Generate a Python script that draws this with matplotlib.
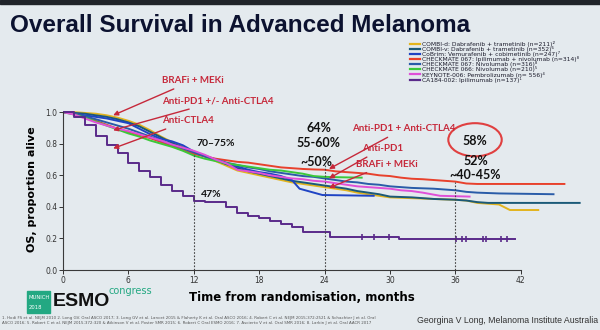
import matplotlib
matplotlib.use("Agg")
import matplotlib.pyplot as plt
from matplotlib.patches import Ellipse, Rectangle

# ---- data (months, OS proportion) ----
combid_t = [0, 1, 2, 3, 4, 5, 6, 7, 8, 9, 10, 11, 12, 13, 14, 15, 16, 17, 18, 19, 20, 21, 22, 23, 24, 25, 26, 27, 28, 29, 30, 32, 34, 36, 37, 38, 39, 40, 41, 43.6]
combid_s = [1.0, 1.0, 0.995, 0.99, 0.98, 0.965, 0.945, 0.92, 0.885, 0.845, 0.81, 0.78, 0.75, 0.72, 0.69, 0.66, 0.63, 0.615, 0.60, 0.585, 0.57, 0.555, 0.545, 0.535, 0.525, 0.515, 0.505, 0.49, 0.48, 0.47, 0.46, 0.455, 0.45, 0.445, 0.44, 0.425, 0.42, 0.415, 0.38, 0.38]

combiv_t = [0, 1, 2, 3, 4, 5, 6, 7, 8, 9, 10, 11, 12, 13, 14, 15, 16, 17, 18, 19, 20, 21, 22, 23, 24, 25, 26, 27, 28, 29, 30, 32, 34, 36, 37, 38, 39, 47.4]
combiv_s = [1.0, 0.995, 0.99, 0.98, 0.97, 0.955, 0.935, 0.91, 0.875, 0.84, 0.805, 0.775, 0.745, 0.72, 0.695, 0.67, 0.645, 0.625, 0.61, 0.595, 0.58, 0.565, 0.555, 0.545, 0.535, 0.525, 0.515, 0.50, 0.49, 0.48, 0.465, 0.46, 0.45, 0.445, 0.44, 0.43, 0.425, 0.425]

cobrim_t = [0, 1, 2, 3, 4, 5, 6, 7, 8, 9, 10, 11, 12, 13, 14, 15, 16, 17, 18, 19, 20, 21, 21.7, 23.8, 28.5]
cobrim_s = [1.0, 0.99, 0.98, 0.97, 0.96, 0.945, 0.93, 0.895, 0.86, 0.83, 0.815, 0.79, 0.75, 0.725, 0.70, 0.675, 0.655, 0.635, 0.62, 0.61, 0.595, 0.57, 0.515, 0.475, 0.47]

cm067_combo_t = [0, 1, 2, 3, 4, 5, 6, 7, 8, 9, 10, 11, 12, 13, 14, 15, 16, 17, 18, 19, 20, 21, 22, 23, 24, 25, 26, 27, 28, 29, 30, 31, 32, 33, 34, 35, 36, 37, 38, 46]
cm067_combo_s = [1.0, 0.99, 0.97, 0.945, 0.92, 0.895, 0.875, 0.855, 0.835, 0.81, 0.785, 0.76, 0.735, 0.72, 0.705, 0.695, 0.685, 0.68, 0.67, 0.66, 0.65, 0.645, 0.64, 0.637, 0.635, 0.625, 0.62, 0.615, 0.61, 0.60, 0.595, 0.585, 0.578, 0.575, 0.57, 0.565, 0.56, 0.548, 0.545, 0.545]

cm067_nivo_t = [0, 1, 2, 3, 4, 5, 6, 7, 8, 9, 10, 11, 12, 13, 14, 15, 16, 17, 18, 19, 20, 21, 22, 23, 24, 25, 26, 27, 28, 29, 30, 31, 32, 34, 36, 37, 38, 40, 45]
cm067_nivo_s = [1.0, 0.99, 0.975, 0.955, 0.935, 0.915, 0.895, 0.87, 0.845, 0.82, 0.795, 0.77, 0.745, 0.72, 0.70, 0.68, 0.665, 0.65, 0.64, 0.625, 0.615, 0.605, 0.595, 0.59, 0.58, 0.57, 0.56, 0.555, 0.545, 0.54, 0.53, 0.525, 0.52, 0.515, 0.505, 0.495, 0.49, 0.485, 0.48]

cm066_t = [0, 1, 2, 3, 4, 5, 6, 7, 8, 9, 10, 11, 12, 13, 14, 15, 16, 17, 18, 19, 20, 21, 22, 23, 24, 25, 27.4]
cm066_s = [1.0, 0.985, 0.965, 0.94, 0.915, 0.89, 0.865, 0.845, 0.82, 0.80, 0.78, 0.755, 0.725, 0.705, 0.69, 0.675, 0.665, 0.655, 0.645, 0.635, 0.63, 0.62, 0.61, 0.595, 0.59, 0.588, 0.585]

kn006_t = [0, 1, 2, 3, 4, 5, 6, 7, 8, 9, 10, 11, 12, 13, 14, 15, 16, 17, 18, 19, 20, 21, 22, 23, 24, 25, 26, 27, 28, 29, 30, 31, 32, 33, 34.6, 37.3]
kn006_s = [1.0, 0.985, 0.96, 0.935, 0.915, 0.895, 0.88, 0.86, 0.84, 0.82, 0.795, 0.775, 0.755, 0.73, 0.70, 0.675, 0.635, 0.625, 0.615, 0.60, 0.59, 0.58, 0.575, 0.565, 0.56, 0.55, 0.54, 0.53, 0.525, 0.52, 0.515, 0.505, 0.50, 0.49, 0.47, 0.465]

ca184_t = [0, 1, 2, 3, 4, 5, 6, 7, 8, 9, 10, 11, 12, 13, 15, 16, 17, 18, 19, 20, 21, 22, 24.5, 30.8, 41.5]
ca184_s = [1.0, 0.97, 0.92, 0.85, 0.79, 0.74, 0.68, 0.63, 0.59, 0.54, 0.50, 0.47, 0.44, 0.43, 0.40, 0.36, 0.34, 0.33, 0.31, 0.29, 0.27, 0.24, 0.21, 0.195, 0.195]
ca184_cens_t = [27.4, 28.5, 29.9, 36.1, 36.6, 37.0, 38.5, 38.8, 40.2, 40.7]
ca184_cens_s = [0.21, 0.21, 0.21, 0.195, 0.195, 0.195, 0.195, 0.195, 0.195, 0.195]

labels = [
    "COMBI-d: Dabrafenib + trametinib (n=211)\u00b2",
    "COMBI-v: Dabrafenib + trametinib (n=352)\u2076",
    "CoBrim: Vemurafenib + cobimetinib (n=247)\u2077",
    "CHECKMATE 067: Ipilimumab + nivolumab (n=314)\u2078",
    "CHECKMATE 067: Nivolumab (n=316)\u2078",
    "CHECKMATE 066: Nivolumab (n=210)\u2075",
    "KEYNOTE-006: Pembrolizumab (n= 556)\u2074",
    "CA184-002: Ipilimumab (n=137)\u00b9",
]
colors = ["#e2b41e", "#1b5a78", "#1f44c4", "#e8412c", "#2a5ca8", "#3cc83a", "#e050d8", "#5a2a8a"]
series = [(combid_t, combid_s), (combiv_t, combiv_s), (cobrim_t, cobrim_s),
          (cm067_combo_t, cm067_combo_s), (cm067_nivo_t, cm067_nivo_s),
          (cm066_t, cm066_s), (kn006_t, kn006_s), (ca184_t, ca184_s)]
xticks = [0, 6, 12, 18, 24, 30, 36, 42]
yticks = [0.0, 0.2, 0.4, 0.6, 0.8, 1.0]

bg = "#e4eaee"
red_txt = "#c6283a"
fig = plt.figure(figsize=(6, 3.3), dpi=100, facecolor=bg)

# dark strip at top of the photo
fig.patches.append(Rectangle((0, 0.988), 1, 0.012, transform=fig.transFigure, color="#20242a", zorder=0))

fig.text(0.017, 0.903, "Overall Survival in Advanced Melanoma", fontsize=17.5, fontweight="bold",
         color="#0c1230", family="Liberation Sans")

ax = fig.add_axes([0.105, 0.1818, 0.872, 0.488])
ax.set_facecolor(bg)
ax.set_xlim(0, 48)
ax.set_ylim(0, 1.02)

for (t, s), c, lab in zip(series, colors, labels):
    if lab.startswith("CA184"):
        ax.plot(t, s, drawstyle="steps-post", color=c, lw=1.4, label=lab)
    else:
        ax.plot(t, s, color=c, lw=1.4, label=lab)
ax.plot(ca184_cens_t, ca184_cens_s, ls="none", marker="|", ms=5, mew=1.2, color=colors[-1])

for spine in ["top", "right"]:
    ax.spines[spine].set_visible(False)
ax.spines["left"].set_bounds(0, 1)
ax.spines["bottom"].set_bounds(0, 42)
for spine in ["left", "bottom"]:
    ax.spines[spine].set_color("#3a3a3a")
    ax.spines[spine].set_linewidth(0.8)
ax.set_xticks(xticks)
ax.set_yticks(yticks)
ax.set_yticklabels(["%.1f" % v for v in yticks])
ax.tick_params(labelsize=5.5, length=3, width=0.7, colors="#333333", pad=1)
ax.set_ylabel("OS, proportion alive", fontsize=8, fontweight="bold", labelpad=6)
ax.set_xlabel("Time from randomisation, months", fontsize=8.5, fontweight="bold")
ax.xaxis.set_label_coords(42 * 0.5 / 48 + 0.02, -0.13)

# dotted reference lines
ax.plot([12, 12], [0, 0.73], ls=(0, (1.5, 1.5)), color="#444444", lw=0.8)
ax.plot([24, 24], [0, 0.68], ls=(0, (1.5, 1.5)), color="#444444", lw=0.8)
ax.plot([36, 36], [0, 0.56], ls=(0, (1.5, 1.5)), color="#444444", lw=0.8)

lato = ["Lato", "DejaVu Sans"]
# left annotations
for txt, ytxt, ytip in [("BRAFi + MEKi", 1.20, 0.98), ("Anti-PD1 +/- Anti-CTLA4", 1.07, 0.885), ("Anti-CTLA4", 0.945, 0.77)]:
    ax.annotate(txt, xy=(4.6, ytip), xytext=(9.1, ytxt), fontsize=7, fontweight="bold", color=red_txt,
                family=lato, va="center", ha="left", annotation_clip=False,
                arrowprops=dict(arrowstyle="-|>", color=red_txt, lw=1.0, mutation_scale=7, shrinkA=2, shrinkB=0))

# middle annotations
for txt, xt, ytxt, ytip in [("Anti-PD1 + Anti-CTLA4", 26.5, 0.895, 0.64), ("Anti-PD1", 27.4, 0.77, 0.58), ("BRAFi + MEKi", 26.9, 0.67, 0.52)]:
    ax.annotate(txt, xy=(24.4, ytip), xytext=(xt, ytxt), fontsize=7, fontweight="bold", color=red_txt,
                family=lato, va="center", ha="left",
                arrowprops=dict(arrowstyle="-|>", color=red_txt, lw=1.0, mutation_scale=7, shrinkA=2, shrinkB=0))

blk = dict(fontweight="bold", color="#111111", family=lato, ha="center", va="center")
ax.text(14.0, 0.80, "70\u201375%", fontsize=7.5, **blk)
ax.text(13.6, 0.48, "47%", fontsize=7.5, **blk)
ax.text(23.5, 0.90, "64%", fontsize=9, **blk)
ax.text(23.4, 0.805, "55-60%", fontsize=9, **blk)
ax.text(23.2, 0.685, "~50%", fontsize=9, **blk)
ax.text(37.8, 0.82, "58%", fontsize=9, **blk)
ax.text(37.9, 0.69, "52%", fontsize=9, **blk)
ax.text(37.8, 0.60, "~40-45%", fontsize=9, **blk)
ax.add_patch(Ellipse((37.8, 0.825), 4.9, 0.21, fill=False, ec="#e04040", lw=1.5))

leg = fig.legend(loc="upper left", bbox_to_anchor=(0.678, 0.885), frameon=False, fontsize=4.3,
                 handlelength=1.7, handletextpad=0.3, labelspacing=-0.15, borderpad=0)
for line in leg.get_lines():
    line.set_linewidth(1.6)
for t in leg.get_texts():
    t.set_color("#1a1a2a")

# ESMO logo and footer
fig.patches.append(Rectangle((0.045, 0.052), 0.039, 0.066, transform=fig.transFigure, color="#23a882", zorder=1))
fig.text(0.048, 0.098, "MUNICH", fontsize=3.8, color="white", va="center")
fig.text(0.048, 0.068, "2018", fontsize=3.8, color="white", va="center")
fig.text(0.088, 0.085, "ESMO", fontsize=14, fontweight="bold", color="#111111", va="center",
         family="Liberation Sans")
fig.text(0.181, 0.118, "congress", fontsize=7, color="#23a882", va="center")
fig.text(0.004, 0.028, "1. Hodi FS et al. NEJM 2010 2. Long GV. Oral ASCO 2017; 3. Long GV et al. Lancet 2015 & Flaherty K et al. Oral ASCO 2016; 4. Robert C et al. NEJM 2015;372:2521 & Schachter J et al. Oral\n"
         "ASCO 2016; 5. Robert C et al. NEJM 2015;372:320 & Atkinson V et al. Poster SMR 2015; 6. Robert C Oral ESMO 2016; 7. Ascierto V et al. Oral SMR 2016; 8. Larkin J et al. Oral AACR 2017",
         fontsize=2.9, color="#555555", va="center", linespacing=1.3)
fig.text(0.997, 0.028, "Georgina V Long, Melanoma Institute Australia", fontsize=6.3, color="#333333",
         ha="right", va="center", family="Liberation Sans")

fig.savefig("out.png", dpi=100, facecolor=bg)
